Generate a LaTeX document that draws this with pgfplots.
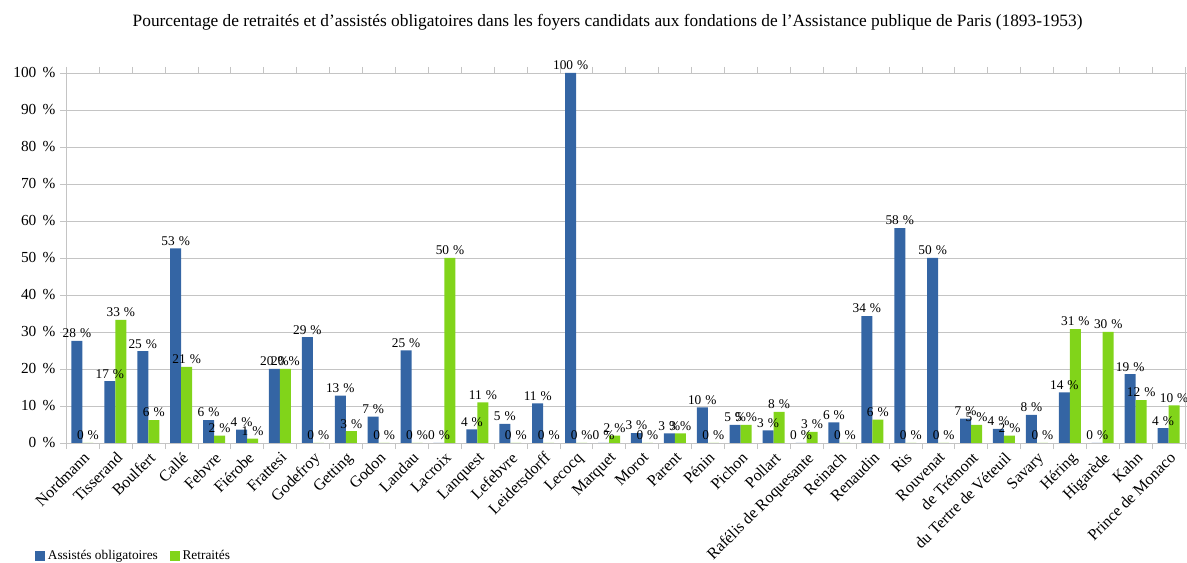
\documentclass[border=0pt]{standalone}
\usepackage{fontspec}
\setmainfont{Liberation Serif}
\usepackage{pgfplots}
\usepackage{pgfplotstable}
\pgfplotsset{compat=1.18}

\definecolor{bleu}{HTML}{3465A4}
\definecolor{vert}{HTML}{81D41A}
\definecolor{grille}{HTML}{C4C4C4}

% x = rang du foyer, a = assistés obligatoires, r = retraités (en %)
\pgfplotstableread{
x a r
0 27.6 0
1 16.7 33.3
2 24.8 6.2
3 52.6 20.6
4 6.2 2.0
5 3.6 1.2
6 20 20
7 28.6 0
8 12.8 3.2
9 7.1 0
10 25 0
11 0 50
12 3.7 11.0
13 5.2 0
14 10.7 0
15 100 0
16 0 2.0
17 2.7 0
18 2.6 2.6
19 9.6 0
20 4.9 4.9
21 3.4 8.4
22 0 3.0
23 5.6 0
24 34.3 6.3
25 58.1 0
26 50 0
27 6.6 4.9
28 3.8 2.0
29 7.6 0
30 13.7 30.8
31 0 30
32 18.6 11.6
33 4.0 10.2
}\foyers

\begin{document}
\begin{tikzpicture}
\begin{axis}[
  /pgf/number format/assume math mode=true,
  scale only axis,
  width=839.25pt, height=277.5pt,
  ybar=0pt, bar width=8.25pt,
  legend image code/.code={\fill[#1] (0pt,-3.75pt) rectangle (7.5pt,3.75pt);},
  xmin=-0.5, xmax=33.5, ymin=0, ymax=100,
  xtick=data,
  xticklabels={Nordmann,Tisserand,Boulfert,Callé,Febvre,Fiérobe,Frattesi,Godefroy,Getting,Godon,Landau,Lacroix,Lanquest,Lefebvre,Leidersdorff,Lecocq,Marquet,Morot,Parent,Pénin,Pichon,Pollart,Rafélis de Roquesante,Reinach,Renaudin,Ris,Rouvenat,de Trémont,du Tertre de Véteuil,Savary,Héring,Higarède,Kahn,Prince de Monaco},
  minor xtick={-0.5,0.5,...,33.5},
  major x tick style={draw=none},
  ytick={0,10,...,100},
  yticklabel={\pgfmathprintnumber{\tick}\hspace{0.4em}\%},
  tick align=outside,
  major tick length=4.5pt, minor tick length=4.5pt,
  tick style={grille},
  axis line style={grille},
  ymajorgrids, grid style={grille},
  x tick label style={rotate=45, anchor=north east, inner sep=1pt, font=\fontsize{12}{14}\selectfont},
  y tick label style={font=\fontsize{11.5}{13}\selectfont},
  title={Pourcentage de retraités et d'assistés obligatoires dans les foyers candidats aux fondations de l'Assistance publique de Paris (1893-1953)},
  title style={at={(rel axis cs:0.484,1)}, anchor=center, yshift=32pt, font=\fontsize{13}{15}\selectfont},
  legend style={at={(rel axis cs:0,0)}, anchor=west, xshift=-23.25pt, yshift=-84.75pt,
    draw=none, fill=none, inner sep=0pt, legend columns=2,
    font=\fontsize{10}{12}\selectfont,
    /tikz/every even column/.append style={column sep=7pt}},
  nodes near coords={\pgfmathprintnumber[fixed,precision=0]{\pgfplotspointmeta}\hspace{0.3em}\%},
  every node near coord/.append style={font=\fontsize{10}{12}\selectfont, inner sep=2pt, black},
]
\addplot[fill=bleu, draw=none] table[x=x, y=a] {\foyers};
\addplot[fill=vert, draw=none] table[x=x, y=r] {\foyers};
\legend{Assistés obligatoires, Retraités}
\coordinate (sw) at (rel axis cs:0,0);
\coordinate (ne) at (rel axis cs:1,1);
\end{axis}
\pgfresetboundingbox
\path ([shift={(-49.5pt,-90pt)}]sw) rectangle ([shift={(1.5pt,54.75pt)}]ne);
\end{tikzpicture}
\end{document}
